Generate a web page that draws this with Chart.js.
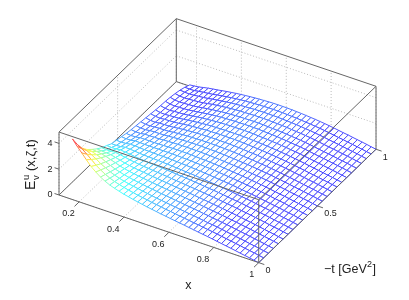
<!DOCTYPE html>
<html>
<head>
<meta charset="utf-8">
<script src="https://cdn.jsdelivr.net/npm/chart.js@4/dist/chart.umd.min.js"></script>
<style>
  html, body { margin: 0; padding: 0; background: #fff; }
  canvas { display: block; }
</style>
</head>
<body>
<canvas id="chart1" width="409" height="300"></canvas>
<script>
const xValues = [0.170,0.191,0.212,0.232,0.253,0.274,0.295,0.315,0.336,0.357,0.378,0.398,0.419,0.440,0.461,0.481,0.502,0.523,0.544,0.564,0.585,0.606,0.627,0.647,0.668,0.689,0.710,0.730,0.751,0.772,0.793,0.813,0.834,0.855,0.876,0.896,0.917,0.938,0.959,0.979,1];
const tValues = [0,0.042,0.083,0.125,0.167,0.208,0.25,0.292,0.333,0.375,0.417,0.458,0.5,0.542,0.583,0.625,0.667,0.708,0.75,0.792,0.833,0.875,0.917,0.958,1];

// one row per x value, read along t from 0 to 1
const zValues = [
[4.70,3.90,3.25,2.78,2.42,2.10,1.82,1.62,1.40,1.30,1.20,1.10,1.02,0.96,0.90,0.84,0.78,0.72,0.68,0.65,0.60,0.52,0.42,0.28,0.10],
[4.25,3.68,3.18,2.75,2.38,2.06,1.78,1.59,1.39,1.27,1.17,1.06,0.97,0.90,0.83,0.76,0.71,0.64,0.60,0.56,0.51,0.45,0.38,0.26,0.13],
[3.85,3.39,2.98,2.62,2.31,2.03,1.79,1.60,1.42,1.30,1.18,1.07,0.97,0.89,0.82,0.74,0.68,0.62,0.56,0.53,0.48,0.42,0.36,0.27,0.18],
[3.45,3.10,2.78,2.50,2.24,2.01,1.81,1.64,1.48,1.35,1.24,1.13,1.03,0.94,0.86,0.79,0.72,0.65,0.60,0.55,0.50,0.45,0.39,0.33,0.26],
[3.05,2.78,2.53,2.31,2.11,1.92,1.75,1.59,1.46,1.35,1.23,1.13,1.03,0.96,0.88,0.80,0.73,0.67,0.62,0.56,0.52,0.47,0.43,0.38,0.33],
[2.75,2.53,2.34,2.15,1.99,1.83,1.69,1.56,1.43,1.32,1.22,1.12,1.04,0.96,0.88,0.81,0.75,0.69,0.64,0.59,0.54,0.50,0.46,0.42,0.39],
[2.48,2.31,2.15,2.00,1.86,1.73,1.61,1.50,1.39,1.30,1.21,1.12,1.04,0.97,0.90,0.84,0.78,0.73,0.68,0.63,0.58,0.54,0.51,0.47,0.44],
[2.28,2.14,2.01,1.89,1.77,1.66,1.56,1.46,1.37,1.29,1.21,1.13,1.07,1.00,0.94,0.88,0.83,0.78,0.73,0.68,0.64,0.60,0.57,0.53,0.50],
[2.11,2.00,1.89,1.79,1.69,1.60,1.51,1.43,1.35,1.28,1.21,1.14,1.08,1.02,0.97,0.92,0.87,0.82,0.78,0.73,0.69,0.66,0.62,0.59,0.56],
[1.98,1.89,1.79,1.71,1.63,1.55,1.47,1.40,1.34,1.27,1.21,1.15,1.10,1.05,1.00,0.95,0.90,0.86,0.82,0.78,0.74,0.71,0.67,0.64,0.61],
[1.87,1.79,1.71,1.64,1.57,1.51,1.44,1.38,1.32,1.27,1.21,1.16,1.11,1.06,1.02,0.97,0.93,0.89,0.85,0.82,0.78,0.75,0.72,0.69,0.66],
[1.77,1.70,1.64,1.58,1.52,1.46,1.40,1.35,1.30,1.25,1.20,1.16,1.11,1.07,1.03,0.99,0.95,0.92,0.88,0.85,0.82,0.79,0.76,0.73,0.70],
[1.69,1.63,1.58,1.52,1.47,1.42,1.37,1.33,1.28,1.24,1.20,1.16,1.12,1.08,1.04,1.01,0.98,0.94,0.91,0.88,0.85,0.82,0.79,0.77,0.74],
[1.60,1.55,1.51,1.46,1.42,1.38,1.33,1.29,1.26,1.22,1.18,1.15,1.11,1.08,1.05,1.01,0.98,0.95,0.93,0.90,0.87,0.85,0.82,0.80,0.77],
[1.53,1.49,1.45,1.41,1.37,1.34,1.30,1.27,1.23,1.20,1.17,1.14,1.11,1.08,1.05,1.02,0.99,0.96,0.94,0.91,0.89,0.87,0.84,0.82,0.80],
[1.46,1.43,1.39,1.36,1.33,1.30,1.26,1.23,1.21,1.18,1.15,1.12,1.10,1.07,1.05,1.02,1.00,0.97,0.95,0.93,0.91,0.88,0.86,0.84,0.82],
[1.39,1.36,1.33,1.30,1.28,1.25,1.22,1.20,1.17,1.15,1.13,1.10,1.08,1.06,1.04,1.01,0.99,0.97,0.95,0.93,0.91,0.89,0.88,0.86,0.84],
[1.33,1.31,1.28,1.26,1.24,1.21,1.19,1.17,1.15,1.13,1.11,1.09,1.07,1.05,1.03,1.01,0.99,0.97,0.96,0.94,0.92,0.91,0.89,0.87,0.86],
[1.27,1.25,1.23,1.21,1.19,1.17,1.15,1.14,1.12,1.10,1.08,1.07,1.05,1.03,1.02,1.00,0.99,0.97,0.96,0.94,0.93,0.91,0.90,0.88,0.87],
[1.21,1.19,1.18,1.16,1.15,1.13,1.11,1.10,1.08,1.07,1.06,1.04,1.03,1.01,1.00,0.98,0.97,0.96,0.95,0.93,0.92,0.91,0.89,0.88,0.87],
[1.16,1.15,1.13,1.12,1.11,1.09,1.08,1.07,1.05,1.04,1.03,1.02,1.00,0.99,0.98,0.97,0.96,0.95,0.94,0.93,0.91,0.90,0.89,0.88,0.87],
[1.10,1.09,1.08,1.07,1.06,1.05,1.03,1.02,1.01,1.00,0.99,0.98,0.97,0.96,0.95,0.94,0.93,0.92,0.91,0.90,0.89,0.88,0.88,0.87,0.86],
[1.05,1.04,1.03,1.02,1.01,1.00,0.99,0.98,0.97,0.96,0.96,0.95,0.94,0.93,0.92,0.91,0.90,0.90,0.89,0.88,0.87,0.87,0.86,0.85,0.85],
[1.00,0.99,0.98,0.98,0.97,0.96,0.95,0.95,0.94,0.93,0.92,0.91,0.91,0.90,0.89,0.89,0.88,0.87,0.87,0.86,0.85,0.85,0.84,0.83,0.83],
[0.95,0.94,0.94,0.93,0.92,0.92,0.91,0.91,0.90,0.89,0.89,0.88,0.88,0.87,0.87,0.86,0.85,0.85,0.84,0.84,0.83,0.83,0.82,0.82,0.81],
[0.89,0.88,0.88,0.87,0.87,0.86,0.86,0.86,0.85,0.85,0.84,0.84,0.83,0.83,0.82,0.82,0.82,0.81,0.81,0.80,0.80,0.79,0.79,0.78,0.78],
[0.84,0.84,0.83,0.83,0.82,0.82,0.82,0.81,0.81,0.80,0.80,0.80,0.79,0.79,0.79,0.78,0.78,0.78,0.77,0.77,0.76,0.76,0.76,0.75,0.75],
[0.78,0.78,0.77,0.77,0.77,0.77,0.76,0.76,0.76,0.76,0.75,0.75,0.75,0.75,0.75,0.74,0.74,0.74,0.74,0.73,0.73,0.73,0.72,0.72,0.72],
[0.73,0.73,0.73,0.72,0.72,0.72,0.72,0.72,0.71,0.71,0.71,0.71,0.71,0.70,0.70,0.70,0.70,0.70,0.69,0.69,0.69,0.69,0.69,0.68,0.68],
[0.68,0.68,0.68,0.67,0.67,0.67,0.67,0.67,0.67,0.66,0.66,0.66,0.66,0.66,0.66,0.66,0.65,0.65,0.65,0.65,0.65,0.65,0.64,0.64,0.64],
[0.62,0.62,0.62,0.62,0.61,0.61,0.61,0.61,0.61,0.61,0.61,0.61,0.61,0.60,0.60,0.60,0.60,0.60,0.60,0.60,0.60,0.60,0.59,0.59,0.59],
[0.56,0.56,0.56,0.56,0.56,0.56,0.56,0.55,0.55,0.55,0.55,0.55,0.55,0.55,0.55,0.55,0.55,0.55,0.54,0.54,0.54,0.54,0.54,0.54,0.54],
[0.50,0.50,0.50,0.50,0.50,0.50,0.50,0.50,0.49,0.49,0.49,0.49,0.49,0.49,0.49,0.49,0.49,0.49,0.49,0.48,0.48,0.48,0.48,0.48,0.48],
[0.44,0.44,0.44,0.44,0.44,0.44,0.44,0.44,0.43,0.43,0.43,0.43,0.43,0.43,0.43,0.43,0.43,0.43,0.43,0.42,0.42,0.42,0.42,0.42,0.42],
[0.38,0.38,0.38,0.38,0.38,0.38,0.38,0.38,0.38,0.38,0.38,0.38,0.37,0.37,0.37,0.37,0.37,0.37,0.37,0.37,0.37,0.37,0.37,0.37,0.37],
[0.32,0.32,0.32,0.32,0.32,0.32,0.32,0.32,0.32,0.32,0.32,0.32,0.31,0.31,0.31,0.31,0.31,0.31,0.31,0.31,0.31,0.31,0.31,0.31,0.31],
[0.25,0.25,0.25,0.25,0.25,0.25,0.25,0.25,0.25,0.25,0.25,0.25,0.25,0.25,0.25,0.25,0.25,0.25,0.25,0.25,0.25,0.25,0.25,0.25,0.25],
[0.19,0.19,0.19,0.19,0.19,0.19,0.19,0.19,0.19,0.19,0.19,0.19,0.19,0.19,0.19,0.19,0.19,0.19,0.19,0.19,0.19,0.19,0.19,0.19,0.19],
[0.13,0.13,0.13,0.13,0.13,0.13,0.13,0.13,0.13,0.13,0.13,0.13,0.13,0.13,0.13,0.13,0.13,0.13,0.13,0.13,0.13,0.13,0.13,0.13,0.13],
[0.06,0.06,0.06,0.06,0.06,0.06,0.06,0.06,0.06,0.06,0.06,0.06,0.06,0.06,0.06,0.06,0.06,0.06,0.06,0.06,0.06,0.06,0.06,0.06,0.06],
[0,0,0,0,0,0,0,0,0,0,0,0,0,0,0,0,0,0,0,0,0,0,0,0,0]
];

const xTicks = [0.2, 0.4, 0.6, 0.8, 1];
const tTicks = [0, 0.5, 1];
const zTicks = [0, 2, 4];
const xTickLabels = ["0.2", "0.4", "0.6", "0.8", "1"];
const tTickLabels = ["0", "0.5", "1"];
const zTickLabels = ["0", "2", "4"];

const xMin = 0.11, xMax = 1, tMin = 0, tMax = 1, zMin = 0, zMax = 4.88;
const colorMax = 4.7;

// fixed camera of the 3d box, gives page position for a data point
function project(x, t, z) {
    return {
        x: 59 + (x - xMin) * 224.4 + t * 117.3,
        y: 195 + (x - xMin) * 76 - t * 113.4 - z * 12.9
    };
}

// jet map without its dark blue end, washed a bit towards white
function jet(v) {
    const w = Math.max(v, 0.125);
    const f = c => Math.round(255 * (0.3 + 0.7 * Math.max(0, Math.min(1, 1.5 - Math.abs(4 * w - c)))));
    return `rgb(${f(3)},${f(2)},${f(1)})`;
}

const datasets = [];

function addLine(points, color, width, dash) {
    datasets.push({
        data: points,
        showLine: true,
        borderColor: color,
        borderWidth: width,
        borderDash: dash || [],
        pointRadius: 0,
        fill: false
    });
}

function edge(a, b) {
    addLine([project(a[0], a[1], a[2]), project(b[0], b[1], b[2])], boxColor, 1);
}

const boxColor = "#666";
const gridColor = "#bbb";

// index 0 is painted last, so push from the nearest thing to the farthest

// box edges in front of the surface
edge([xMin, tMin, zMax], [xMax, tMin, zMax]);
edge([xMax, tMin, zMax], [xMax, tMax, zMax]);
edge([xMax, tMin, zMin], [xMax, tMin, zMax]);
edge([xMin, tMin, zMin], [xMax, tMin, zMin]);
edge([xMax, tMin, zMin], [xMax, tMax, zMin]);

// tick marks
xTicks.forEach(v => edge([v, tMin, zMin], [v, tMin - 0.04, zMin]));
tTicks.forEach(v => edge([xMax, v, zMin], [xMax + 0.025, v, zMin]));
zTicks.forEach(v => edge([xMin, tMin, v], [xMin - 0.02, tMin + 0.0, v]));

// surface cells, white inside so they hide what is behind them
for (let j = 0; j < tValues.length - 1; j++) {
    for (let k = xValues.length - 2; k >= 0; k--) {
        const corners = [[k, j], [k + 1, j], [k + 1, j + 1], [k, j + 1], [k, j]];
        const mean = (zValues[k][j] + zValues[k + 1][j] + zValues[k + 1][j + 1] + zValues[k][j + 1]) / 4;
        datasets.push({
            data: corners.map(c => project(xValues[c[0]], tValues[c[1]], zValues[c[0]][c[1]])),
            showLine: true,
            borderColor: jet(mean / colorMax),
            borderWidth: 1,
            backgroundColor: "#fff",
            fill: "shape",
            pointRadius: 0
        });
    }
}

// box edges behind the surface
edge([xMin, tMin, zMin], [xMin, tMin, zMax]);
edge([xMin, tMin, zMin], [xMin, tMax, zMin]);
edge([xMin, tMax, zMin], [xMax, tMax, zMin]);
edge([xMin, tMax, zMin], [xMin, tMax, zMax]);
edge([xMax, tMax, zMin], [xMax, tMax, zMax]);
edge([xMin, tMin, zMax], [xMin, tMax, zMax]);
edge([xMin, tMax, zMax], [xMax, tMax, zMax]);

// dotted grid on the floor and both back walls
function gridLine(a, b) {
    addLine([project(a[0], a[1], a[2]), project(b[0], b[1], b[2])], gridColor, 1, [1, 2]);
}
xTicks.forEach(v => {
    gridLine([v, tMin, zMin], [v, tMax, zMin]);
    gridLine([v, tMax, zMin], [v, tMax, zMax]);
});
tTicks.forEach(v => {
    gridLine([xMin, v, zMin], [xMax, v, zMin]);
    gridLine([xMin, v, zMin], [xMin, v, zMax]);
});
zTicks.forEach(v => {
    gridLine([xMin, tMin, v], [xMin, tMax, v]);
    gridLine([xMin, tMax, v], [xMax, tMax, v]);
});

const axisText = {
    id: "axisText",
    afterDraw(chart) {
        const ctx = chart.ctx;
        const sx = chart.scales.x, sy = chart.scales.y;
        const font = "Liberation Sans, Arial, sans-serif";
        ctx.save();
        ctx.fillStyle = "#222";
        ctx.textBaseline = "middle";

        ctx.font = "9px " + font;
        ctx.textAlign = "right";
        xTicks.forEach((v, i) => {
            const p = project(v, tMin, zMin);
            ctx.fillText(xTickLabels[i], sx.getPixelForValue(p.x) - 4.5, sy.getPixelForValue(p.y) + 12);
        });
        zTicks.forEach((v, i) => {
            const p = project(xMin, tMin, v);
            ctx.fillText(zTickLabels[i], sx.getPixelForValue(p.x) - 6.5, sy.getPixelForValue(p.y));
        });
        ctx.textAlign = "left";
        tTicks.forEach((v, i) => {
            const p = project(xMax, v, zMin);
            ctx.fillText(tTickLabels[i], sx.getPixelForValue(p.x) + 6.8, sy.getPixelForValue(p.y) + 8);
        });

        ctx.textBaseline = "alphabetic";
        ctx.font = "12.5px " + font;
        ctx.textAlign = "center";
        ctx.fillText("x", 188.3, 289);
        ctx.textAlign = "left";
        ctx.fillText("\u2212t [GeV", 324, 273);
        ctx.fillText("]", 372.5, 273);
        ctx.font = "9px " + font;
        ctx.fillText("2", 367, 267);

        ctx.translate(35, 190);
        ctx.rotate(-Math.PI / 2);
        ctx.font = "14px " + font;
        ctx.fillText("E", 0, 0);
        ctx.font = "13px " + font;
        ctx.fillText("(x,\u03b6,t)", 19, 0);
        ctx.font = "9.5px " + font;
        ctx.fillText("u", 10, -6.5);
        ctx.fillText("v", 10, 4);
        ctx.restore();
    }
};

const chart1 = new Chart(document.getElementById("chart1").getContext("2d"), {
    type: "scatter",
    data: { datasets: datasets },
    options: {
        responsive: false,
        animation: false,
        events: [],
        layout: { padding: 0 },
        plugins: { legend: { display: false }, tooltip: { enabled: false }, title: { display: false } },
        scales: {
            x: { type: "linear", min: 0, max: 409, display: false },
            y: { type: "linear", min: 0, max: 300, reverse: true, display: false }
        }
    },
    plugins: [axisText]
});
</script>
</body>
</html>
